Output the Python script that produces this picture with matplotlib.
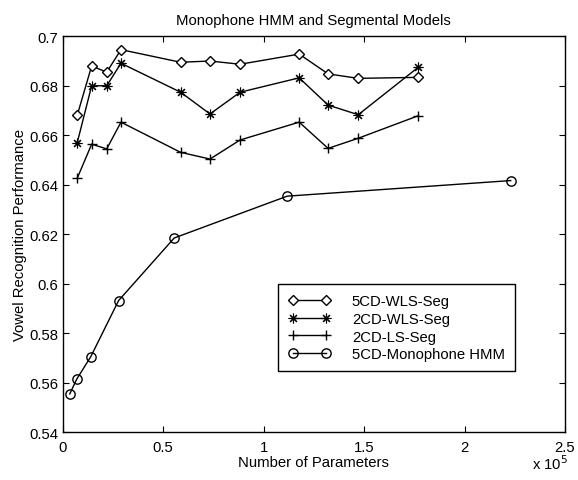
import matplotlib
matplotlib.use("Agg")
import matplotlib.pyplot as plt
from matplotlib.ticker import FormatStrFormatter, MultipleLocator

# x values are in units of 1e5 parameters
seg_x = [0.072, 0.144, 0.219, 0.29, 0.587, 0.733, 0.883, 1.177, 1.321, 1.471, 1.77]
wls5_y = [0.668, 0.688, 0.6855, 0.6946, 0.6895, 0.690, 0.6887, 0.6928, 0.6848, 0.683, 0.6834]
wls2_y = [0.6569, 0.680, 0.680, 0.6891, 0.6774, 0.6686, 0.6774, 0.6832, 0.6722, 0.6683, 0.6875]
ls2_y = [0.6426, 0.6564, 0.6545, 0.6653, 0.6531, 0.6504, 0.6581, 0.6653, 0.6547, 0.6588, 0.6679]

hmm_x = [0.035, 0.07, 0.14, 0.278, 0.555, 1.117, 2.23]
hmm_y = [0.5555, 0.5615, 0.5706, 0.5932, 0.6185, 0.6354, 0.6417]

labels = ["5CD-WLS-Seg", "2CD-WLS-Seg", "2CD-LS-Seg", "5CD-Monophone HMM"]

fs = 10.7
plt.rcParams["font.family"] = ["Liberation Sans", "DejaVu Sans"]
plt.rcParams["font.size"] = fs

fig = plt.figure(figsize=(5.78, 4.81), dpi=100)
ax = fig.add_axes([0.1085, 0.0992, 0.869, 0.8233])

lw = 1.0
asterisk = (8, 2, 0)

ax.plot(seg_x, wls5_y, color="black", lw=lw, marker="D", ms=4.8,
        mfc="white", mec="black", mew=lw, label=labels[0])
ax.plot(seg_x, wls2_y, color="black", lw=lw, marker=asterisk, ms=7,
        mec="black", mew=0.8, label=labels[1])
ax.plot(seg_x, ls2_y, color="black", lw=lw, marker="+", ms=7,
        mec="black", mew=lw, label=labels[2])
ax.plot(hmm_x, hmm_y, color="black", lw=lw, marker="o", ms=6.7,
        mfc="none", mec="black", mew=lw, label=labels[3])

ax.set_xlim(0, 2.5)
ax.set_ylim(0.54, 0.7)
ax.xaxis.set_major_locator(MultipleLocator(0.5))
ax.yaxis.set_major_locator(MultipleLocator(0.02))
ax.xaxis.set_major_formatter(FormatStrFormatter("%g"))
ax.yaxis.set_major_formatter(FormatStrFormatter("%g"))

ax.tick_params(direction="in", length=4, width=0.8, top=True, right=True,
               labelsize=fs)
ax.tick_params(axis="x", pad=5.5)
ax.tick_params(axis="y", pad=3)
for s in ax.spines.values():
    s.set_linewidth(1.0)

ax.set_title("Monophone HMM and Segmental Models", pad=8.5, fontsize=fs)
ax.set_xlabel("Number of Parameters", labelpad=1)
ax.set_ylabel("Vowel Recognition Performance", labelpad=2)

fig.text(0.921, 0.017, r"x 10$^5$", fontsize=fs, ha="left", va="bottom")

ax.legend(loc="upper left", bbox_to_anchor=(0.429, 0.3745), numpoints=2,
          handlelength=2.8, handletextpad=1.45, labelspacing=0.24,
          borderpad=0.7, borderaxespad=0, fancybox=False,
          edgecolor="black", framealpha=1, fontsize=fs)
ax.get_legend().get_frame().set_linewidth(1.0)

fig.savefig("out.png", dpi=100)
